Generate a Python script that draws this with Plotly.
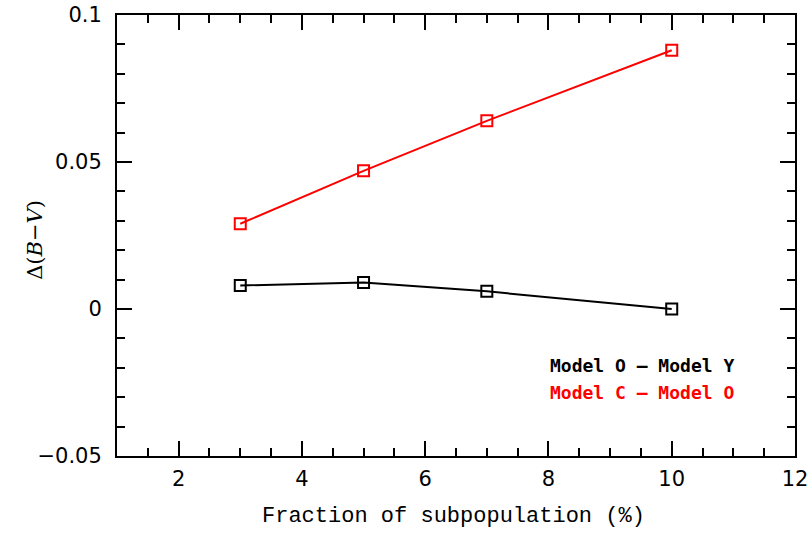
import plotly.graph_objects as go

fraction = [3, 5, 7, 10]
model_o_minus_y = [0.008, 0.009, 0.006, 0.0]
model_c_minus_o = [0.029, 0.047, 0.064, 0.088]

x_ticks = [2, 4, 6, 8, 10, 12]
y_ticks = [-0.05, 0, 0.05, 0.1]
y_ticklabels = ["\u22120.05", "0", "0.05", "0.1"]

fig = go.Figure()
fig.add_trace(go.Scatter(
    x=fraction, y=model_o_minus_y, mode="lines+markers",
    line=dict(color="black", width=2),
    marker=dict(symbol="square-open", size=11, color="black", line=dict(width=2)),
    showlegend=False))
fig.add_trace(go.Scatter(
    x=fraction, y=model_c_minus_o, mode="lines+markers",
    line=dict(color="red", width=2),
    marker=dict(symbol="square-open", size=11, color="red", line=dict(width=2)),
    showlegend=False))

tickfont = dict(family="DejaVu Sans", size=21, color="black")
fig.update_xaxes(
    range=[1, 12], showgrid=False, zeroline=False, automargin=False,
    showline=True, linecolor="black", linewidth=2, mirror="allticks",
    ticks="inside", ticklen=15, tickwidth=1.5, tickcolor="black",
    tickvals=x_ticks, tickfont=tickfont, ticklabelstandoff=3, ticklabeloverflow="allow",
    minor=dict(dtick=0.5, tick0=1, ticks="inside", ticklen=8, tickwidth=1.5, tickcolor="black"),
)
fig.update_yaxes(
    range=[-0.05, 0.1], showgrid=False, zeroline=False, automargin=False,
    showline=True, linecolor="black", linewidth=2, mirror="allticks",
    ticks="inside", ticklen=15, tickwidth=1.5, tickcolor="black",
    tickvals=y_ticks, ticktext=y_ticklabels, tickfont=tickfont, ticklabelstandoff=9,
    ticklabeloverflow="allow",
    minor=dict(dtick=0.01, tick0=0, ticks="inside", ticklen=8, tickwidth=1.5, tickcolor="black"),
)

fig.add_annotation(x=0.496, y=-0.138, xref="paper", yref="paper", xanchor="center", yanchor="middle",
                   text="Fraction of subpopulation (%)", showarrow=False,
                   font=dict(family="Liberation Mono", size=22, color="black"))
fig.add_annotation(x=-0.121, y=0.49, xref="paper", yref="paper", xanchor="center", yanchor="middle",
                   text="\u0394(<i>B</i>\u2212<i>V</i>)", showarrow=False, textangle=-90,
                   font=dict(family="DejaVu Serif", size=21, color="black"))

fig.add_annotation(x=0.636, y=0.206, xref="paper", yref="paper", xanchor="left", yanchor="middle",
                   text="<b>Model O \u2013 Model Y</b>", showarrow=False,
                   font=dict(family="DejaVu Sans Mono", size=18, color="black"))
fig.add_annotation(x=0.636, y=0.143, xref="paper", yref="paper", xanchor="left", yanchor="middle",
                   text="<b>Model C \u2013 Model O</b>", showarrow=False,
                   font=dict(family="DejaVu Sans Mono", size=18, color="red"))

fig.update_layout(
    width=810, height=533,
    margin=dict(l=117, r=15, t=15, b=77),
    plot_bgcolor="white", paper_bgcolor="white",
)
fig.write_html("out.html", config={"displayModeBar": False},
               post_script="document.body.style.margin='0';document.body.style.overflow='hidden';")
